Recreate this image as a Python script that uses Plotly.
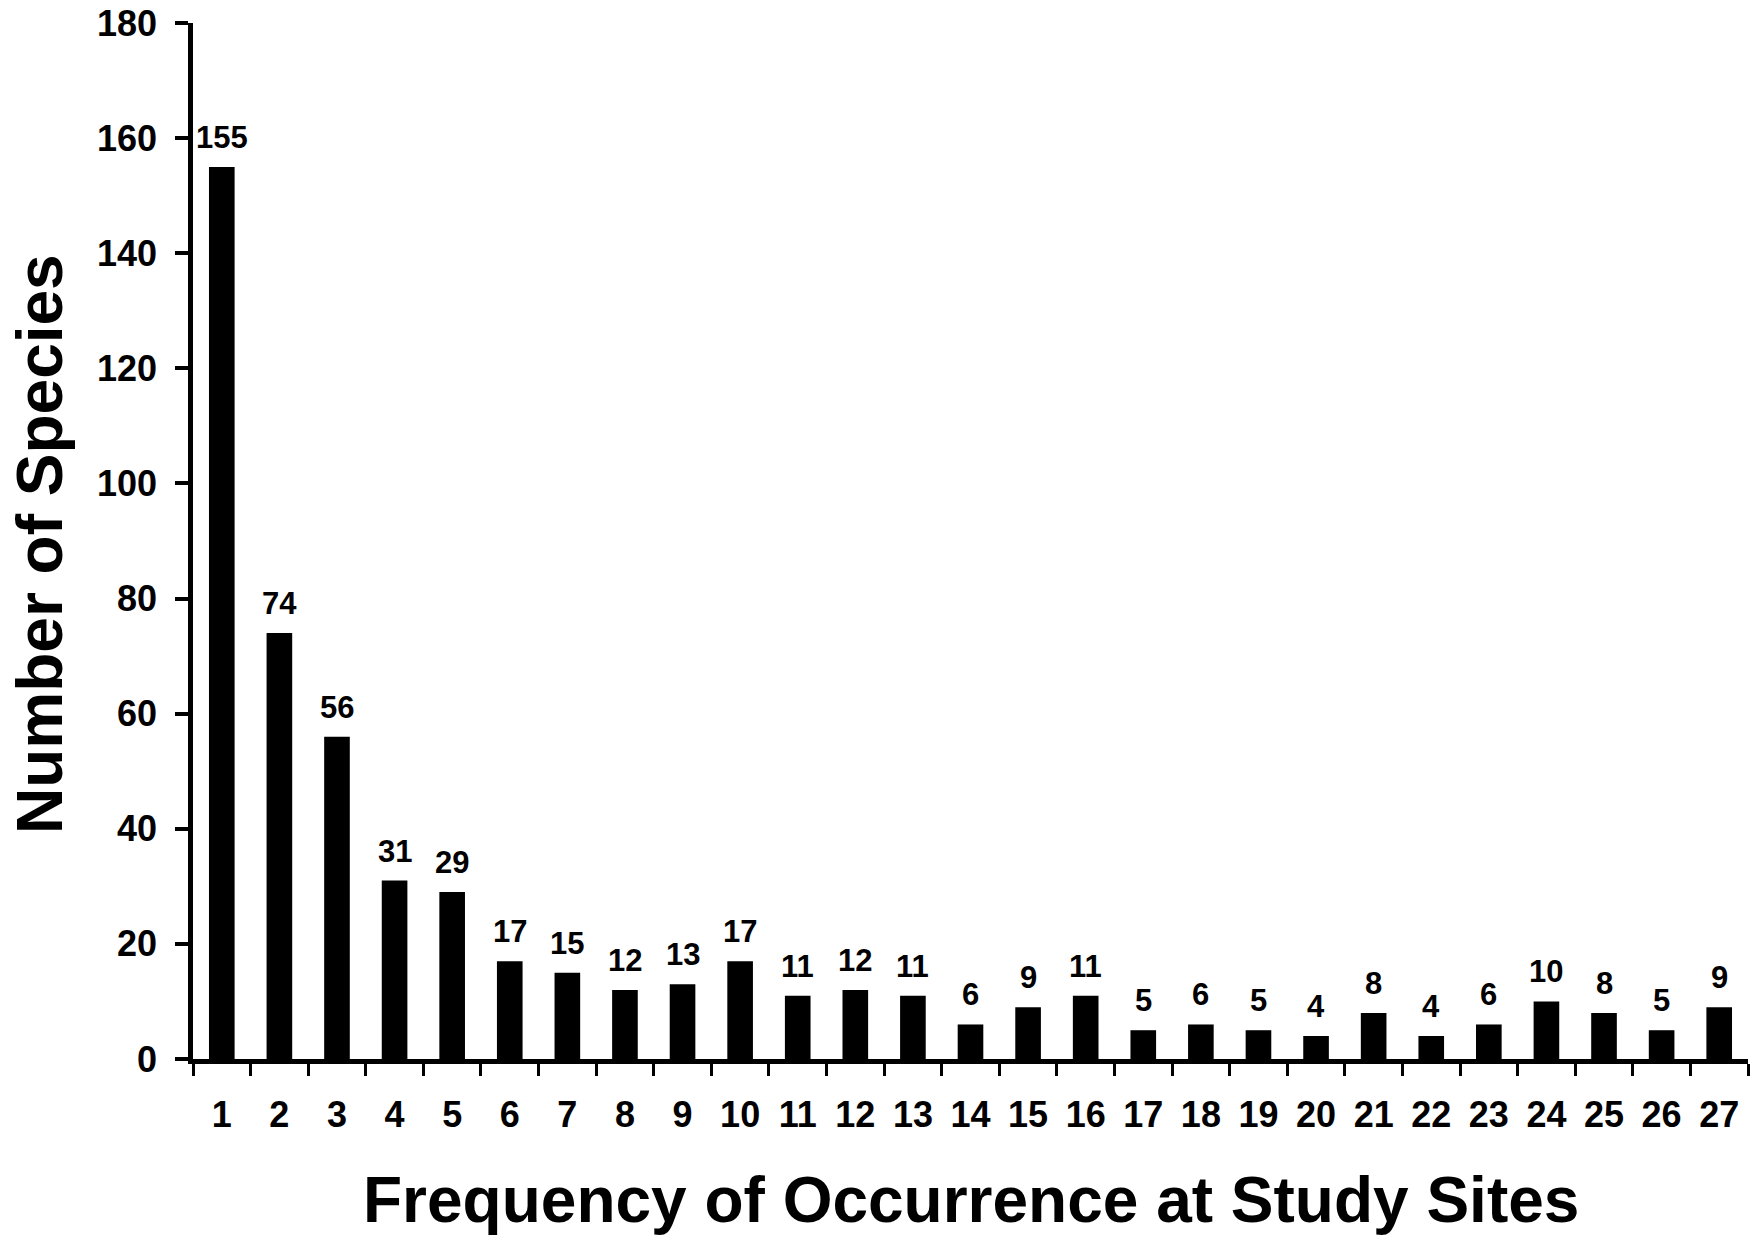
import plotly.graph_objects as go

categories = [str(i) for i in range(1, 28)]
species_counts = [155, 74, 56, 31, 29, 17, 15, 12, 13, 17, 11, 12, 11, 6, 9,
                  11, 5, 6, 5, 4, 8, 4, 6, 10, 8, 5, 9]
y_ticks = [0, 20, 40, 60, 80, 100, 120, 140, 160, 180]
x_title = "Frequency of Occurrence at Study Sites"
y_title = "Number of Species"

FONT = "Liberation Sans, Arial, sans-serif"

fig = go.Figure()
fig.add_trace(go.Bar(
    x=categories, y=species_counts, width=0.445,
    marker=dict(color="black", line=dict(width=0)),
    hoverinfo="x+y",
))

for i, v in enumerate(species_counts):
    fig.add_annotation(x=i, y=v, text=str(v), showarrow=False,
                       xref="x", yref="y", yanchor="bottom", yshift=10,
                       font=dict(family=FONT, size=31, color="black", weight=700))

L, T, R, B = 193, 23, 4, 178
W, H = 1752, 1237
pw = W - L - R
ph = H - T - B

fig.add_annotation(text=x_title, xref="paper", yref="paper",
                   x=(971 - L) / pw, y=-(1200 - (H - B)) / ph,
                   xanchor="center", yanchor="middle", showarrow=False,
                   font=dict(family=FONT, size=64, color="black", weight=700))
fig.add_annotation(text=y_title, xref="paper", yref="paper",
                   x=(40 - L) / pw, y=0.5 - (544 - (T + ph / 2)) / ph,
                   xanchor="center", yanchor="middle", showarrow=False, textangle=-90,
                   font=dict(family=FONT, size=64, color="black", weight=700))

fig.update_layout(
    width=W, height=H,
    margin=dict(l=L, r=R, t=T, b=B, pad=0),
    paper_bgcolor="white", plot_bgcolor="white",
    showlegend=False,
    font=dict(family=FONT, color="black", weight=700),
)
fig.update_xaxes(
    type="category", range=[-0.5, 26.5],
    showline=True, linecolor="black", linewidth=4.5,
    ticks="outside", tickson="boundaries", ticklen=12, tickwidth=3, tickcolor="black",
    tickfont=dict(family=FONT, size=36, color="black", weight=700),
    ticklabelstandoff=20,
    showgrid=False, zeroline=False,
)
fig.update_yaxes(
    range=[0, 180], tickvals=y_ticks, ticktext=[str(t) for t in y_ticks],
    showline=True, linecolor="black", linewidth=4.5,
    ticks="outside", ticklen=13, tickwidth=4, tickcolor="black",
    tickfont=dict(family=FONT, size=36, color="black", weight=700),
    ticklabelstandoff=11,
    showgrid=False, zeroline=False,
)

fig.write_html("out.html",
               config={"displayModeBar": False},
               post_script="document.body.style.margin='0';document.body.style.padding='0';")
